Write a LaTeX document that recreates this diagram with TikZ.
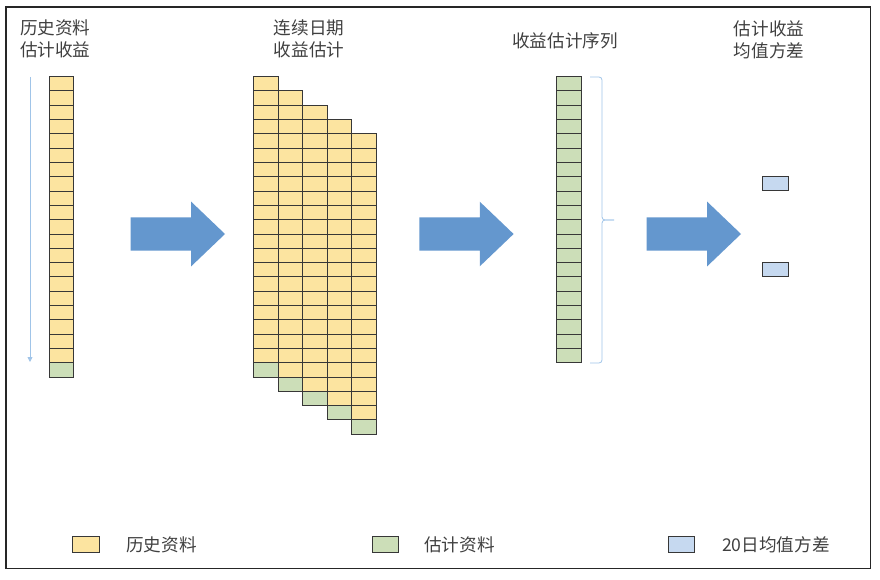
\documentclass[tikz,border=0pt]{standalone}
\usepackage{fontspec}
\usetikzlibrary{arrows.meta}
\setmainfont{Noto Sans CJK SC}
\definecolor{histyellow}{RGB}{252,228,160}
\definecolor{estgreen}{RGB}{204,222,184}
\definecolor{varblue}{RGB}{198,217,240}
\definecolor{flowblue}{RGB}{100,151,206}
\definecolor{guideblue}{RGB}{160,196,232}
\definecolor{cellline}{RGB}{55,55,55}
\definecolor{textgray}{RGB}{64,64,64}
\newcommand{\flowarrow}[1]{%
  \fill[flowblue] (#1,217.3) -- ++(60.5,0) -- ++(0,-15.6) -- ++(33.8,32.3)
    -- ++(-33.8,32.3) -- ++(0,-15.6) -- ++(-60.5,0) -- cycle;}

\begin{document}
\begin{tikzpicture}[x=1pt, y=-1pt,
  histcell/.style={draw=cellline, line width=1pt, fill=histyellow},
  estcell/.style={draw=cellline, line width=1pt, fill=estgreen},
  varcell/.style={draw=cellline, line width=1pt, fill=varblue},
  title/.style={align=center, text=textgray, font=\fontsize{17.6pt}{22pt}\selectfont, inner sep=0pt},
  legendtext/.style={anchor=west, text=textgray, font=\fontsize{17.6pt}{20pt}\selectfont, inner sep=0pt}]
\useasboundingbox (0,0) rectangle (880,580);
\draw[line width=1.2pt, black!85] (6,7) rectangle (870.7,568.3);

\node[title] (histtitle) at (55.3,39) {历史资料\\估计收益};
\node[title] (rolltitle) at (309,39) {连续日期\\收益估计};
\node[title] (seqtitle) at (565,40.5) {收益估计序列};
\node[title] (vartitle) at (769,39.5) {估计收益\\均值方差};

% history column
\coordinate (timestart) at (30,77);
\coordinate (timeend) at (30,362);
\draw[guideblue, line width=0.8pt, -{Triangle[width=5pt,length=5pt]}] (timestart) -- (timeend);
\foreach \i in {0,...,19}
  \draw[histcell] (49.3,76.7+14.3*\i) rectangle ++(24.4,14.3);
\draw[estcell] (49.3,76.7+14.3*20) rectangle ++(24.4,14.3);

\flowarrow{130.7}

% rolling windows
\foreach \c in {0,...,4} {
  \foreach \i in {0,...,19}
    \draw[histcell] (253.7+24.5*\c,76.7+14.3*\c+14.3*\i) rectangle ++(24.5,14.3);
  \draw[estcell] (253.7+24.5*\c,76.7+14.3*\c+14.3*20) rectangle ++(24.5,14.3);
}

\flowarrow{419.3}

% estimated series
\foreach \i in {0,...,19}
  \draw[estcell] (556.7,76.7+14.3*\i) rectangle ++(25,14.3);
\draw[guideblue, line width=0.8pt, rounded corners=3pt] (590,77) -| (602,220) -- (614,220);
\draw[guideblue, line width=0.8pt, rounded corners=3pt] (614,220) -- (602,220) |- (590,363);

\flowarrow{646.7}

\draw[varcell] (762.7,176.7) rectangle ++(25.6,14.3);
\draw[varcell] (762.7,262.3) rectangle ++(25.6,14.3);

% legend
\draw[histcell] (72.7,536.7) rectangle ++(26.3,16);
\node[legendtext] (histlegend) at (126,545) {历史资料};
\draw[estcell] (372,536.7) rectangle ++(26.3,16);
\node[legendtext] (estlegend) at (424,545) {估计资料};
\draw[varcell] (668.3,536.7) rectangle ++(26.3,16);
\node[legendtext] (varlegend) at (722,545) {20日均值方差};
\end{tikzpicture}
\end{document}
